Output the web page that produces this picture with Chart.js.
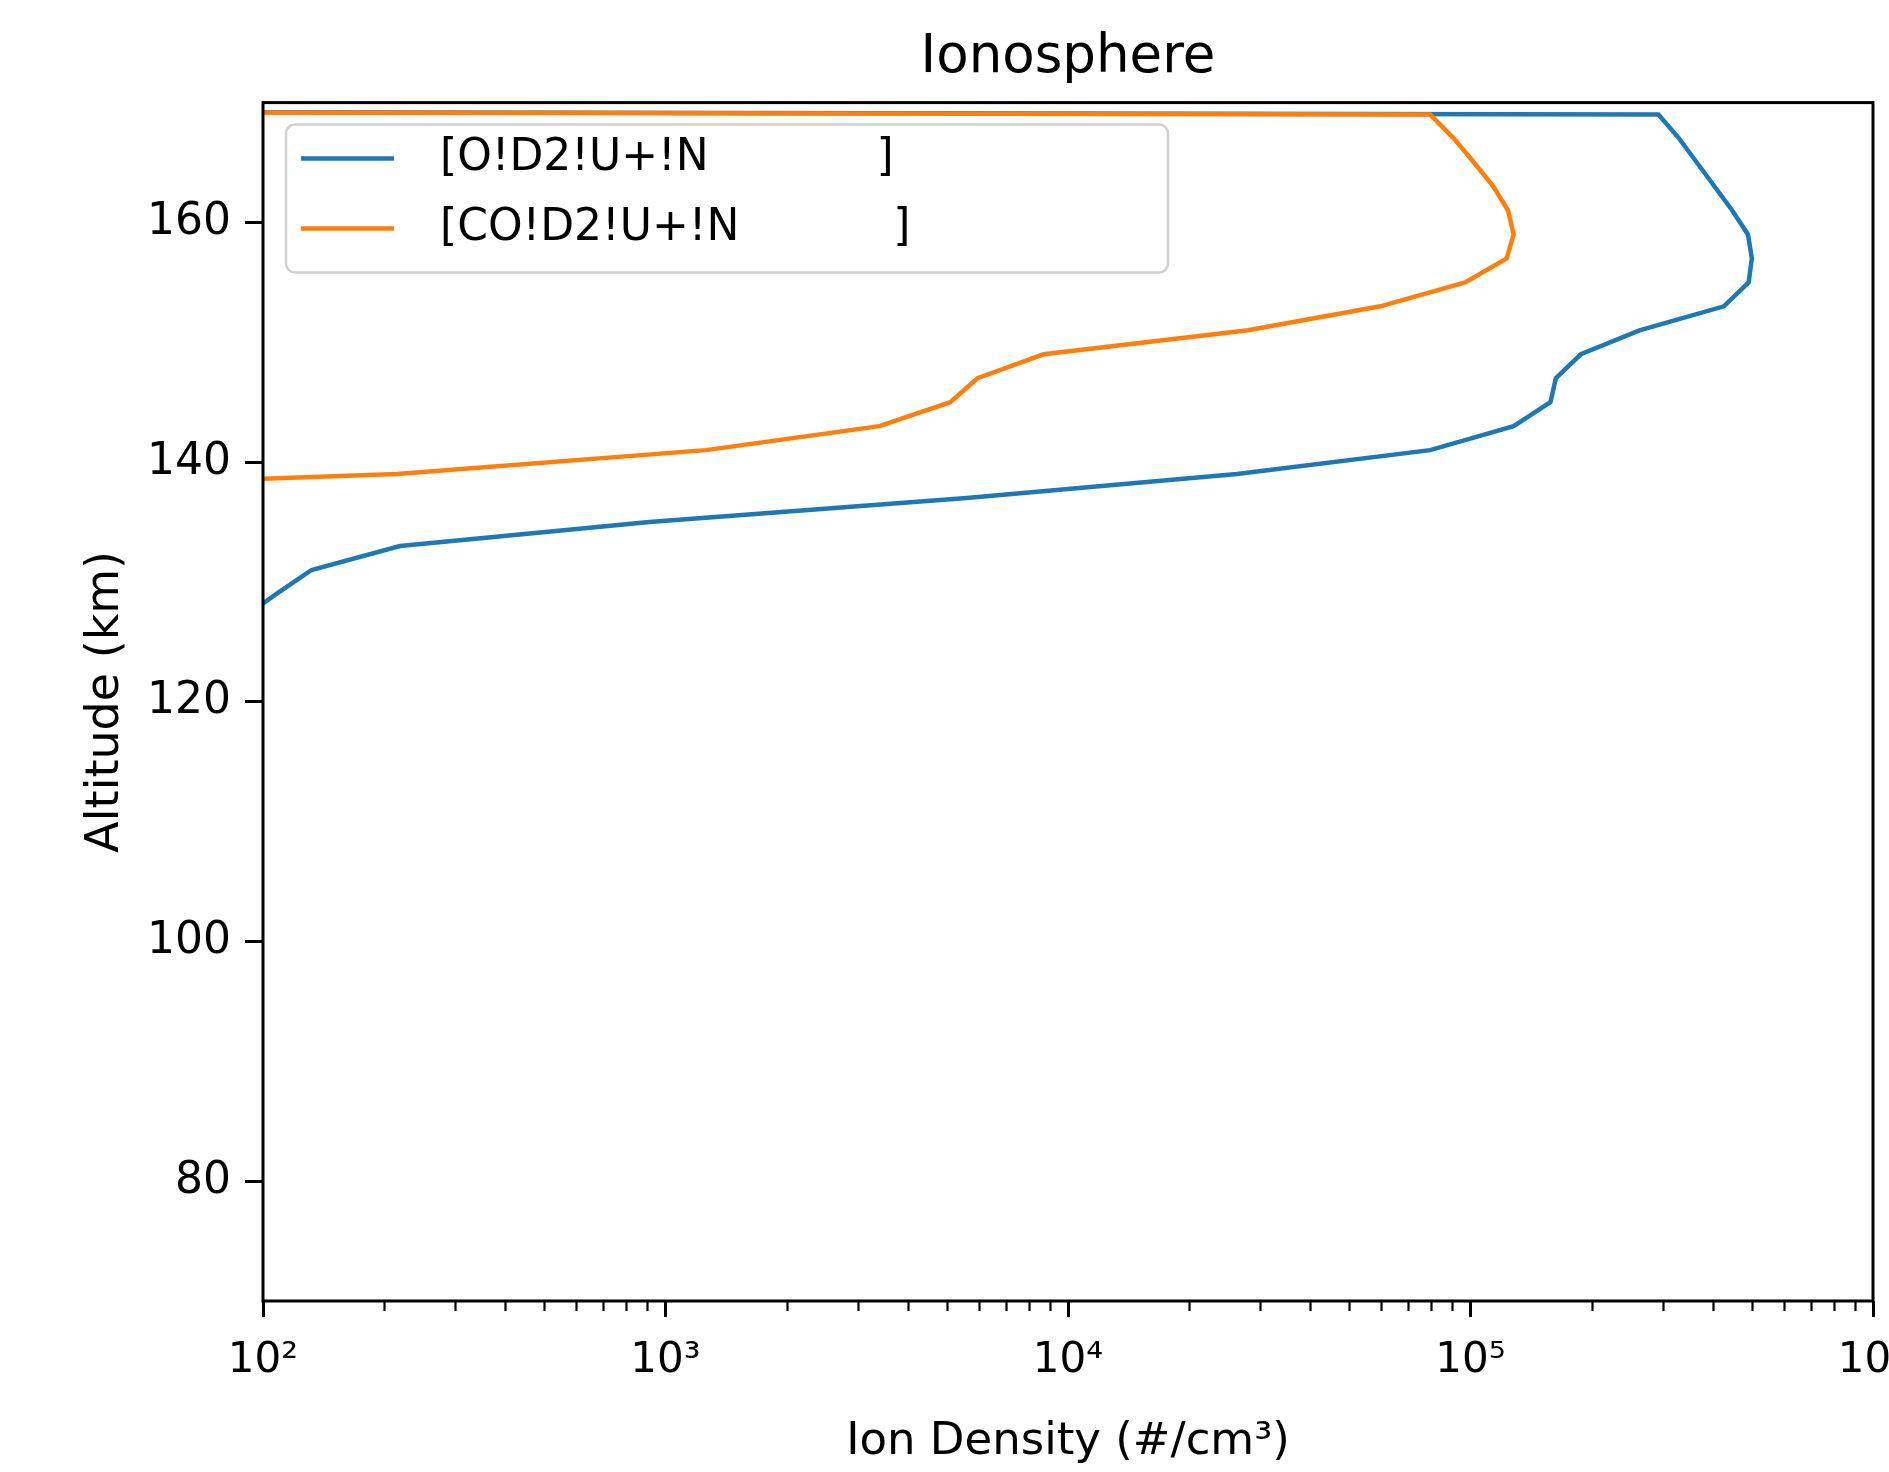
<!DOCTYPE html>
<html>
<head>
<meta charset="utf-8">
<title>Ionosphere</title>
<script src="https://cdn.jsdelivr.net/npm/chart.js@4.4.1/dist/chart.umd.min.js"></script>
<style>
  html, body { margin: 0; padding: 0; background: #fff; }
  #chart { display: block; }
</style>
</head>
<body>
<canvas id="chart" width="1889" height="1472"></canvas>
<script>
// altitude grid (km); the 171 km level is where both densities fall to ~0
const ALTITUDE_KM = [125, 127, 129, 131, 133, 135, 137, 139, 141, 143, 145, 147,
                     149, 151, 153, 155, 157, 159, 161, 163, 165, 167, 169, 171];

// ion densities (#/cm^3)
const O2_PLUS  = [60, 89, 108, 132, 219, 912, 5600, 26300, 79400, 128000, 158000, 163000,
                  188000, 263000, 426000, 491000, 500000, 489000, 447000, 404000, 365000, 330000, 293000, 1e-30];
const CO2_PLUS = [1e-6, 1e-5, 1e-4, 1e-3, 0.02, 0.3, 4, 215, 1260, 3400, 5100, 5960,
                  8700, 28000, 59700, 97000, 123000, 128000, 124000, 114000, 102000, 91000, 79400, 1e-30];

const SERIES_LABELS = ['[O!D2!U+!N            ]', '[CO!D2!U+!N           ]'];
const SERIES_COLORS = ['#1f77b4', '#ff7f0e'];

const X_TICKS = [1e2, 1e3, 1e4, 1e5, 1e6];
const Y_TICKS = [80, 100, 120, 140, 160];
const SUPERSCRIPTS = { 2: '²', 3: '³', 4: '⁴', 5: '⁵', 6: '⁶' };

const FONT = 'DejaVu Sans';
Chart.defaults.font.family = FONT;
Chart.defaults.color = '#000';

// ── plugins ────────────────────────────────────────────────────────────────

// black box around the plot area (matplotlib spines)
const frame = {
  id: 'frame',
  afterDatasetsDraw(chart) {
    const { ctx, chartArea: a } = chart;
    ctx.save();
    ctx.strokeStyle = '#000';
    ctx.lineWidth = 3;
    ctx.strokeRect(a.left, a.top, a.right - a.left, a.bottom - a.top);
    ctx.restore();
  }
};

// short unlabeled log ticks between the decades
const minorTicks = {
  id: 'minorTicks',
  afterDraw(chart) {
    const { ctx, chartArea: a } = chart;
    const xs = chart.scales.x;
    ctx.save();
    ctx.strokeStyle = '#000';
    ctx.lineWidth = 2.2;
    for (let e = 2; e < 6; e++) {
      for (let m = 2; m < 10; m++) {
        const px = Math.round(xs.getPixelForValue(m * Math.pow(10, e))) + 0.5;
        ctx.beginPath();
        ctx.moveTo(px, a.bottom);
        ctx.lineTo(px, a.bottom + 10);
        ctx.stroke();
      }
    }
    ctx.restore();
  }
};

// legend drawn inside the plot, with a rounded frame
const legendBox = {
  id: 'legendBox',
  afterDraw(chart) {
    const { ctx, chartArea: a } = chart;
    const x0 = a.left + 23, y0 = a.top + 22, w = 882, h = 148;
    ctx.save();
    ctx.beginPath();
    ctx.roundRect(x0, y0, w, h, 9);
    ctx.fillStyle = 'rgba(255,255,255,0.8)';
    ctx.fill();
    ctx.strokeStyle = '#d0d0d0';
    ctx.lineWidth = 2.5;
    ctx.stroke();

    ctx.font = `44px "${FONT}"`;
    ctx.textBaseline = 'middle';
    ctx.fillStyle = '#000';
    chart.data.datasets.forEach((ds, i) => {
      const y = y0 + 34 + i * 70;
      ctx.strokeStyle = ds.borderColor;
      ctx.lineWidth = 4.5;
      ctx.beginPath();
      ctx.moveTo(x0 + 15, y);
      ctx.lineTo(x0 + 108, y);
      ctx.stroke();
      ctx.fillText(ds.label, x0 + 154, y);
    });
    ctx.restore();
  }
};

// ── chart ──────────────────────────────────────────────────────────────────

function profile(values) {
  return ALTITUDE_KM.map((alt, i) => ({ x: values[i], y: alt }));
}

new Chart(document.getElementById('chart'), {
  type: 'line',
  data: {
    datasets: [O2_PLUS, CO2_PLUS].map((vals, i) => ({
      label: SERIES_LABELS[i],
      data: profile(vals),
      borderColor: SERIES_COLORS[i],
      backgroundColor: SERIES_COLORS[i],
      borderWidth: 4.5,
      pointRadius: 0,
      tension: 0,
      fill: false,
      order: 2 - i, // later series drawn on top, as in matplotlib
    })),
  },
  options: {
    responsive: false,
    animation: false,
    devicePixelRatio: 1,
    layout: { padding: { left: 0, right: 16, top: 0, bottom: 0 } },
    plugins: {
      legend: { display: false },
      tooltip: { enabled: false },
      title: {
        display: true,
        fullSize: false,
        text: 'Ionosphere',
        color: '#000',
        font: { family: FONT, size: 53, weight: 'normal' },
        padding: { top: 26, bottom: 13 },
      },
    },
    scales: {
      x: {
        type: 'logarithmic',
        position: 'bottom',
        min: 1e2,
        max: 1e6,
        afterBuildTicks: s => { s.ticks = X_TICKS.map(v => ({ value: v, major: true })); },
        afterFit: s => { s.height = 171; s.paddingLeft = 0; s.paddingRight = 0; },
        ticks: {
          autoSkip: false,
          maxRotation: 0,
          padding: 19,
          color: '#000',
          font: { size: 42 },
          callback: v => '10' + SUPERSCRIPTS[Math.round(Math.log10(v))],
        },
        grid: { display: true, drawOnChartArea: false, drawTicks: true, tickLength: 16, tickWidth: 3, tickColor: '#000' },
        border: { display: false },
        title: {
          display: true,
          text: 'Ion Density (#/cm³)',
          color: '#000',
          font: { size: 45 },
          padding: { top: 0, bottom: 3 },
        },
      },
      y: {
        type: 'linear',
        min: 70,
        max: 170,
        afterBuildTicks: s => { s.ticks = Y_TICKS.map(v => ({ value: v })); },
        afterFit: s => { s.width = 263; s.paddingTop = 0; s.paddingBottom = 0; },
        ticks: { padding: 14, color: '#000', font: { size: 44 } },
        grid: { display: true, drawOnChartArea: false, drawTicks: true, tickLength: 18, tickWidth: 3, tickColor: '#000' },
        border: { display: false },
        title: {
          display: true,
          text: 'Altitude (km)',
          color: '#000',
          font: { size: 46 },
          padding: { top: 78, bottom: 0 },
        },
      },
    },
  },
  plugins: [frame, minorTicks, legendBox],
});
</script>
</body>
</html>
